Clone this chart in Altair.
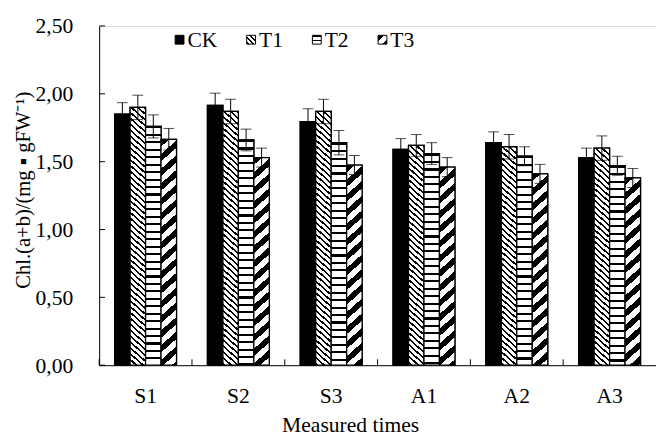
import altair as alt
import pandas as pd

times = ["S1", "S2", "S3", "A1", "A2", "A3"]
treatments = ["CK", "T1", "T2", "T3"]

ck = [1.85, 1.915, 1.795, 1.59, 1.64, 1.53]
t1 = [1.90, 1.87, 1.87, 1.62, 1.61, 1.60]
t2 = [1.76, 1.66, 1.64, 1.56, 1.54, 1.47]
t3 = [1.665, 1.53, 1.475, 1.46, 1.41, 1.38]

ck_err = [0.085, 0.09, 0.095, 0.08, 0.08, 0.07]
t1_err = [0.09, 0.09, 0.09, 0.08, 0.09, 0.09]
t2_err = [0.085, 0.08, 0.09, 0.08, 0.07, 0.07]
t3_err = [0.08, 0.07, 0.07, 0.07, 0.07, 0.07]

y_ticks = [0.0, 0.5, 1.0, 1.5, 2.0, 2.5]

W, H = 568, 346
YMAX = 2.5
FONT = "Liberation Serif"
step = W / len(times)
BAR_W = 14.0
po2 = (step / BAR_W - len(treatments)) / 2

# pattern styles: (direction, pitch px, black fraction)
patterns = {
    "T1": ("back", 6.0, 0.36),
    "T2": ("h", 7.6, 0.28),
    "T3": ("fwd", 15.0, 0.5),
}


def grad_expr(kind, w, h, pitch, frac):
    if kind == "h":
        x1, y1, x2, y2 = 0, 0, 0, 1
        span = h
    else:
        dx = w * (w + h) / (w * w + h * h)
        dy = h * (w + h) / (w * w + h * h)
        span = w + h
        if kind == "fwd":
            x1, y1, x2, y2 = 0, 0, dx, dy
        else:
            x1, y1, x2, y2 = 1, 0, 1 - dx, dy
    q = pitch / span
    stops = []
    k = 0
    while k * q < 1:
        a = k * q
        b = min(1.0, a + frac * q)
        c = min(1.0, (k + 1) * q)
        stops += [(a, "black"), (b, "black"), (b, "white"), (c, "white")]
        k += 1
    s = ",".join("{'offset':%.5f,'color':'%s'}" % (o, col) for o, col in stops)
    return {"expr": "{'gradient':'linear','x1':%.5f,'y1':%.5f,'x2':%.5f,'y2':%.5f,'stops':[%s]}"
            % (x1, y1, x2, y2, s)}


vals = {"CK": ck, "T1": t1, "T2": t2, "T3": t3}
errs = {"CK": ck_err, "T1": t1_err, "T2": t2_err, "T3": t3_err}

rows = []
keys = []
fill_range = []
for i, t in enumerate(times):
    for tr in treatments:
        v = vals[tr][i]
        e = errs[tr][i]
        key = f"{t}-{tr}"
        keys.append(key)
        rows.append({"time": t, "treatment": tr, "value": v,
                     "lo": v - e, "hi": v + e, "key": key})
        if tr == "CK":
            fill_range.append("black")
        else:
            kind, p, f = patterns[tr]
            fill_range.append(grad_expr(kind, BAR_W, v * H / YMAX, p, f))

df = pd.DataFrame(rows)

legend_range = ["black"]
for tr in ["T1", "T2", "T3"]:
    kind, p, f = patterns[tr]
    pp = {"T1": 5.0, "T2": 4.6, "T3": 13.0}[tr]
    legend_range.append(grad_expr(kind, 9, 9, pp, f))

x_axis = alt.Axis(title="Measured times", labelAngle=0, ticks=False, grid=False,
                  domainColor="black", labelPadding=21, titlePadding=9, titleX=256,
                  labelFontSize=22, titleFontSize=22, titleFontWeight="normal",
                  labelColor="black", titleColor="black", labelFont=FONT, titleFont=FONT)
y_axis = alt.Axis(title="Chl.(a+b)/(mg ▪ gFW⁻¹)", values=y_ticks,
                  labelExpr="replace(format(datum.value, '.2f'), '.', ',')",
                  ticks=False, grid=False, domainColor="black", labelPadding=27,
                  titlePadding=2, titleY=167, labelFontSize=22, titleFontSize=21,
                  titleFontWeight="normal", labelColor="black", titleColor="black",
                  labelFont=FONT, titleFont=FONT)

xs = alt.Scale(domain=times, paddingInner=0, paddingOuter=0)
xos = alt.Scale(domain=treatments, paddingInner=0, paddingOuter={"expr": "%.5f" % po2})
ys = alt.Scale(domain=[0, YMAX], nice=False)

X = alt.X("time:N", scale=xs, axis=x_axis, sort=times)
XO = alt.XOffset("treatment:N", scale=xos, sort=treatments)

legend_layer = alt.Chart(df).mark_bar(stroke="black", strokeWidth=1.3).encode(
    x=X, xOffset=XO,
    y=alt.Y("value:Q", scale=ys, axis=y_axis),
    color=alt.Color("treatment:N", scale=alt.Scale(domain=treatments, range=legend_range),
                    legend=alt.Legend(title=None, orient="none", legendX=71, legendY=3,
                                      direction="horizontal", columns=4, symbolType="square",
                                      symbolSize=81, symbolStrokeColor="black",
                                      symbolStrokeWidth=1, labelFontSize=22,
                                      labelOffset={"expr": "-3"},
                                      columnPadding=23, padding=0, labelColor="black",
                                      labelFont=FONT)),
)

pattern_layer = alt.Chart(df).mark_bar(stroke="black", strokeWidth=1.3).encode(
    x=X, xOffset=XO,
    y=alt.Y("value:Q", scale=ys, axis=y_axis),
    fill=alt.Fill("key:N", scale=alt.Scale(domain=keys, range=fill_range), legend=None),
)

err_rule = alt.Chart(df).mark_rule(color="black", strokeWidth=1).encode(
    x=X, xOffset=XO,
    y=alt.Y("lo:Q", scale=ys, axis=y_axis), y2="hi:Q",
)

err_cap_hi = alt.Chart(df).mark_tick(color="black", thickness=1, size=11).encode(
    x=X, xOffset=XO,
    y=alt.Y("hi:Q", scale=ys, axis=y_axis),
)

err_cap_lo = alt.Chart(df).mark_tick(color="black", thickness=1, size=11).encode(
    x=X, xOffset=XO,
    y=alt.Y("lo:Q", scale=ys, axis=y_axis),
)

ytick_df = pd.DataFrame({"v": y_ticks})
ytick_layer = alt.Chart(ytick_df).mark_rule(color="black", strokeWidth=1).encode(
    y=alt.Y("v:Q", scale=ys, axis=y_axis),
    x=alt.value(0), x2=alt.value(6),
)

xtick_df = pd.DataFrame({"time": times})
xtick_layer = alt.Chart(xtick_df).mark_rule(color="black", strokeWidth=1).encode(
    x=alt.X("time:N", scale=xs, axis=x_axis, sort=times, bandPosition=0),
    y=alt.value(H - 6), y2=alt.value(H),
)

chart = alt.layer(legend_layer, pattern_layer, err_rule, err_cap_hi, err_cap_lo,
                  ytick_layer, xtick_layer).properties(
    width=W, height=H,
    autosize=alt.AutoSizeParams(type="none"),
    padding={"left": 93, "top": 14, "right": 0, "bottom": 75},
).configure_view(stroke=None).configure(font=FONT)

chart.save("out.html", embed_options={"renderer": "svg", "actions": False})
